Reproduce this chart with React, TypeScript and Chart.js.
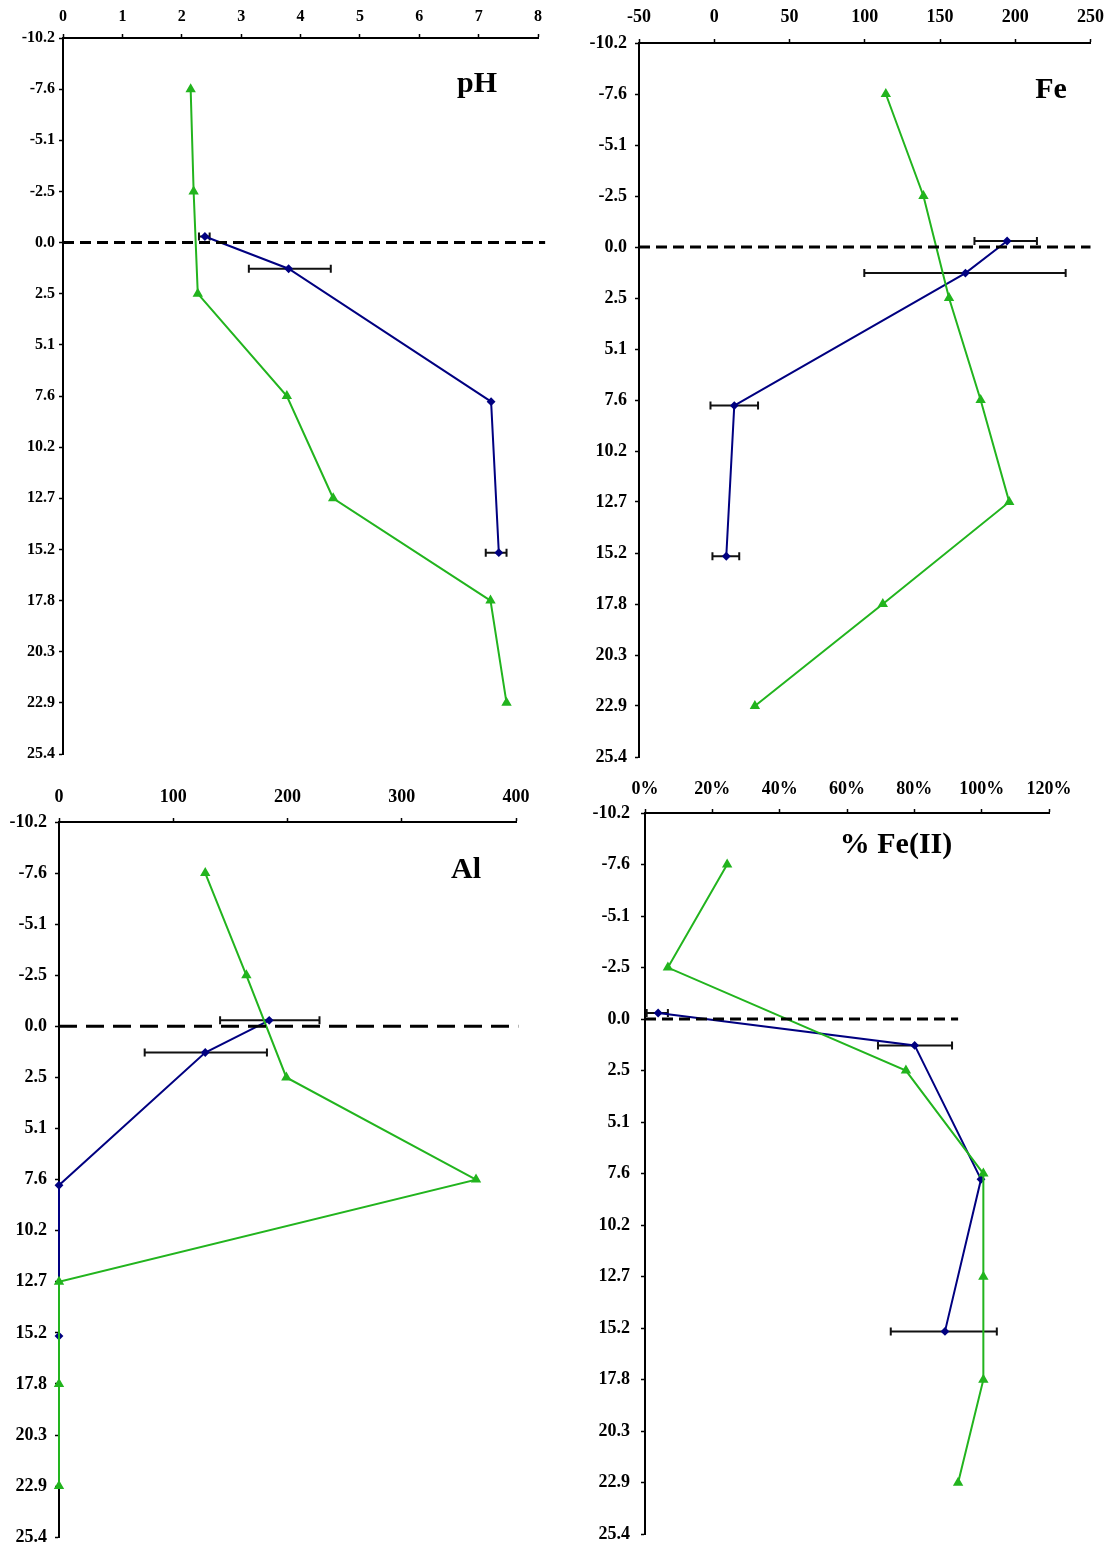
import React, { useEffect, useRef } from "react";
import { Chart, registerables } from "chart.js";
Chart.register(...registerables);

// Depth axis (cm), shared by all panels
const depthTicks = [-10.16, -7.62, -5.08, -2.54, 0, 2.54, 5.08, 7.62, 10.16, 12.7, 15.24, 17.78, 20.32, 22.86, 25.4];
const greenDepths = [-7.62, -2.54, 2.54, 7.62, 12.7, 17.78, 22.86];
const blueDepths = [-0.3, 1.3, 7.9, 15.4];

// pH
const phTicks = [0, 1, 2, 3, 4, 5, 6, 7, 8];
const phGreen = [2.15, 2.2, 2.27, 3.77, 4.55, 7.2, 7.47];
const phBlue = [2.39, 3.8, 7.21, 7.34];
const phErrLow = [2.29, 3.13, null, 7.12];
const phErrHigh = [2.47, 4.51, null, 7.47];

// Fe
const feTicks = [-50, 0, 50, 100, 150, 200, 250];
const feGreen = [114, 139, 156, 177, 196, 112, 27];
const feBlue = [194.6, 166.9, 13.3, 8];
const feErrLow = [172.9, 99.7, -2.5, -1.2];
const feErrHigh = [214.4, 233.5, 29.1, 16.6];

// Al
const alTicks = [0, 100, 200, 300, 400];
const alGreen = [128, 164, 199, 365, 0, 0, 0];
const alBlue = [184, 128, 0, 0];
const alErrLow = [141, 75, null, null];
const alErrHigh = [228, 182, null, null];

// % Fe(II)
const fe2Ticks = [0, 20, 40, 60, 80, 100, 120];
const fe2Green = [24.4, 6.8, 77.5, 100.5, 100.5, 100.5, 93];
const fe2Blue = [3.9, 80.1, 99.8, 89.1];
const fe2ErrLow = [0.5, 69.2, null, 73];
const fe2ErrHigh = [6.8, 91.2, null, 104.5];

const GREEN = "#22b41e";
const BLUE = "#000080";
const FONT = "'Liberation Serif', 'Times New Roman', serif";

const errorBarPlugin = {
  id: "errorBars",
  beforeDatasetsDraw(chart: any) {
    const ctx = chart.ctx;
    const xs = chart.scales.x;
    const ys = chart.scales.y;
    chart.data.datasets.forEach((ds: any) => {
      if (!ds.errLow) return;
      ds.data.forEach((pt: any, i: number) => {
        const lo = ds.errLow[i];
        const hi = ds.errHigh[i];
        if (lo == null || hi == null) return;
        const y = ys.getPixelForValue(pt.y);
        const x1 = xs.getPixelForValue(lo);
        const x2 = xs.getPixelForValue(hi);
        ctx.save();
        ctx.strokeStyle = "#111";
        ctx.lineWidth = 2;
        ctx.beginPath();
        ctx.moveTo(x1, y);
        ctx.lineTo(x2, y);
        ctx.moveTo(x1, y - 4);
        ctx.lineTo(x1, y + 4);
        ctx.moveTo(x2, y - 4);
        ctx.lineTo(x2, y + 4);
        ctx.stroke();
        ctx.restore();
      });
    });
  },
};

type PanelDef = {
  box: number[];
  yW: number;
  xH: number;
  padR: number;
  padB: number;
  yPad: number;
  xPad: number;
  fontSize: number;
  xTicks: number[];
  fmt: (v: number) => string;
  green: number[];
  blue: number[];
  errLow: (number | null)[];
  errHigh: (number | null)[];
  dashFrom: number;
  dashTo: number;
  dash: number[];
  title: string;
  titlePos: number[];
};

const panels: PanelDef[] = [
  {
    box: [0, 0, 557, 778], yW: 63, xH: 38, padR: 19, padB: 24, yPad: 4, xPad: 8, fontSize: 16,
    xTicks: phTicks, fmt: (v) => String(v),
    green: phGreen, blue: phBlue, errLow: phErrLow, errHigh: phErrHigh,
    dashFrom: 0, dashTo: 8.12, dash: [11, 6], title: "pH", titlePos: [477, 82],
  },
  {
    box: [557, 0, 558, 778], yW: 82, xH: 43, padR: 22, padB: 21, yPad: 8, xPad: 11, fontSize: 18,
    xTicks: feTicks, fmt: (v) => String(v),
    green: feGreen, blue: feBlue, errLow: feErrLow, errHigh: feErrHigh,
    dashFrom: -50, dashTo: 250, dash: [11, 6], title: "Fe", titlePos: [1051, 88],
  },
  {
    box: [0, 778, 557, 778], yW: 59, xH: 44, padR: 41, padB: 16, yPad: 8, xPad: 10, fontSize: 18,
    xTicks: alTicks, fmt: (v) => String(v),
    green: alGreen, blue: alBlue, errLow: alErrLow, errHigh: alErrHigh,
    dashFrom: 0, dashTo: 402, dash: [18, 9], title: "Al", titlePos: [466, 868],
  },
  {
    box: [557, 778, 558, 778], yW: 88, xH: 35, padR: 66, padB: 11, yPad: 11, xPad: 9, fontSize: 18,
    xTicks: fe2Ticks, fmt: (v) => v + "%",
    green: fe2Green, blue: fe2Blue, errLow: fe2ErrLow, errHigh: fe2ErrHigh,
    dashFrom: 0, dashTo: 93, dash: [11, 6], title: "% Fe(II)", titlePos: [896, 843],
  },
];

function makeConfig(p: PanelDef): any {
  const green = p.green.map((v, i) => ({ x: v, y: greenDepths[i] }));
  const blue = p.blue.map((v, i) => ({ x: v, y: blueDepths[i] }));
  const font = { family: FONT, size: p.fontSize, weight: "bold" as const };
  return {
    type: "line",
    data: {
      datasets: [
        {
          data: [{ x: p.dashFrom, y: 0 }, { x: p.dashTo, y: 0 }],
          borderColor: "#000", borderWidth: 3, borderDash: p.dash,
          pointRadius: 0, clip: false,
        },
        {
          data: green, borderColor: GREEN, backgroundColor: GREEN,
          pointStyle: "triangle", pointRadius: 4, borderWidth: 2, clip: false,
        },
        {
          data: blue, borderColor: BLUE, backgroundColor: BLUE,
          pointStyle: "rectRot", pointRadius: 3, borderWidth: 2, clip: false,
          errLow: p.errLow, errHigh: p.errHigh,
        },
      ],
    },
    options: {
      responsive: false,
      animation: false,
      devicePixelRatio: 1,
      layout: { padding: { left: 0, top: 0, right: p.padR, bottom: p.padB } },
      plugins: { legend: { display: false }, tooltip: { enabled: false } },
      scales: {
        x: {
          type: "linear", position: "top",
          min: p.xTicks[0], max: p.xTicks[p.xTicks.length - 1],
          afterBuildTicks: (s: any) => { s.ticks = p.xTicks.map((v) => ({ value: v })); },
          afterFit: (s: any) => { s.height = p.xH; },
          ticks: { callback: (v: any) => p.fmt(v), font, color: "#000", padding: p.xPad, maxRotation: 0, autoSkip: false },
          grid: { drawOnChartArea: false, drawTicks: true, tickLength: 4, tickColor: "#000", tickWidth: 1.5 },
          border: { display: true, color: "#000", width: 2 },
        },
        y: {
          type: "linear", position: "left", reverse: true,
          min: depthTicks[0], max: depthTicks[depthTicks.length - 1],
          afterBuildTicks: (s: any) => { s.ticks = depthTicks.map((v) => ({ value: v })); },
          afterFit: (s: any) => { s.width = p.yW; },
          ticks: { callback: (v: any) => Number(v).toFixed(1), font, color: "#000", padding: p.yPad, autoSkip: false },
          grid: { drawOnChartArea: false, drawTicks: true, tickLength: 4, tickColor: "#000", tickWidth: 1.5 },
          border: { display: true, color: "#000", width: 2 },
        },
      },
    },
    plugins: [errorBarPlugin],
  };
}

function Panel({ p }: { p: PanelDef }) {
  const ref = useRef<HTMLCanvasElement | null>(null);
  useEffect(() => {
    if (!ref.current) return;
    const c = new Chart(ref.current, makeConfig(p));
    return () => c.destroy();
  }, []);
  return (
    <div style={{ position: "absolute", left: p.box[0], top: p.box[1], width: p.box[2], height: p.box[3] }}>
      <canvas ref={ref} width={p.box[2]} height={p.box[3]} style={{ display: "block", width: p.box[2], height: p.box[3] }} />
    </div>
  );
}

export default function App() {
  return (
    <div style={{ position: "absolute", left: 0, top: 0, width: 1115, height: 1556, background: "#fff" }}>
      {panels.map((p, i) => (
        <Panel key={i} p={p} />
      ))}
      {panels.map((p, i) => (
        <div
          key={"t" + i}
          style={{
            position: "absolute", left: p.titlePos[0], top: p.titlePos[1],
            transform: "translate(-50%, -50%)", font: `bold 30px ${FONT}`,
            color: "#000", whiteSpace: "nowrap", lineHeight: 1,
          }}
        >
          {p.title}
        </div>
      ))}
    </div>
  );
}
